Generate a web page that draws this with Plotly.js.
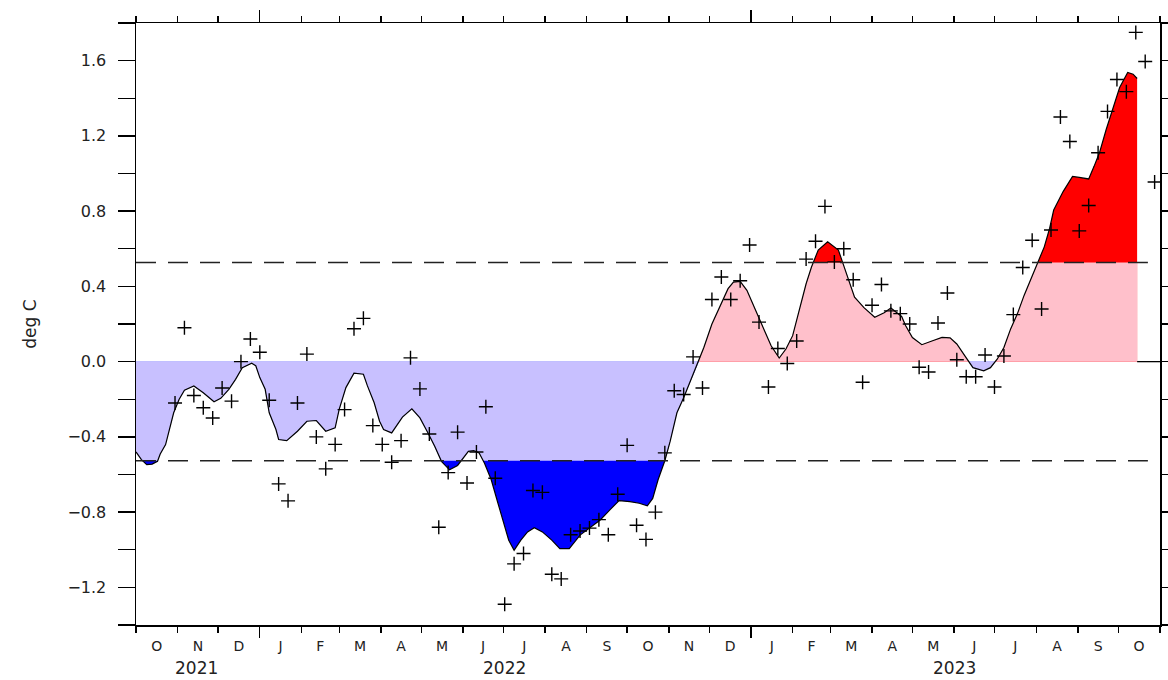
<!DOCTYPE html>
<html><head><meta charset="utf-8">
<script src="https://cdn.plot.ly/plotly-3.0.1.min.js"></script>
<style>html,body{margin:0;padding:0;background:#fff}#chart{width:1168px;height:680px}</style>
</head><body><div id="chart"></div>
<script>
// Weekly anomalies (crosses)
const weekDates = [
'2021-10-30','2021-11-06','2021-11-13','2021-11-20','2021-11-27','2021-12-04','2021-12-11','2021-12-18','2021-12-25',
'2022-01-01','2022-01-08','2022-01-15','2022-01-22','2022-01-29','2022-02-05','2022-02-12','2022-02-19','2022-02-26',
'2022-03-05','2022-03-12','2022-03-19','2022-03-26','2022-04-02','2022-04-09','2022-04-16','2022-04-23','2022-04-30',
'2022-05-07','2022-05-14','2022-05-21','2022-05-28','2022-06-04','2022-06-11','2022-06-18','2022-06-25','2022-07-02',
'2022-07-09','2022-07-16','2022-07-23','2022-07-30','2022-08-06','2022-08-13','2022-08-20','2022-08-27','2022-09-03',
'2022-09-10','2022-09-17','2022-09-24','2022-10-01','2022-10-08','2022-10-15','2022-10-22','2022-10-29','2022-11-05',
'2022-11-12','2022-11-19','2022-11-26','2022-12-03','2022-12-10','2022-12-17','2022-12-24','2022-12-31','2023-01-07',
'2023-01-14','2023-01-21','2023-01-28','2023-02-04','2023-02-11','2023-02-18','2023-02-25','2023-03-04','2023-03-11',
'2023-03-18','2023-03-25','2023-04-01','2023-04-08','2023-04-15','2023-04-22','2023-04-29','2023-05-06','2023-05-13',
'2023-05-20','2023-05-27','2023-06-03','2023-06-10','2023-06-17','2023-06-24','2023-07-01','2023-07-08','2023-07-15',
'2023-07-22','2023-07-29','2023-08-05','2023-08-12','2023-08-19','2023-08-26','2023-09-02','2023-09-09','2023-09-16',
'2023-09-23','2023-09-30','2023-10-07','2023-10-14','2023-10-21','2023-10-28'];
const weekValues = [
-0.22,0.18,-0.18,-0.245,-0.30,-0.14,-0.21,0.00,0.12,
0.05,-0.205,-0.65,-0.74,-0.22,0.04,-0.40,-0.57,-0.44,
-0.255,0.175,0.23,-0.34,-0.44,-0.535,-0.42,0.02,-0.145,
-0.385,-0.88,-0.59,-0.375,-0.645,-0.48,-0.24,-0.62,-1.29,
-1.075,-1.02,-0.685,-0.695,-1.13,-1.155,-0.92,-0.90,-0.885,
-0.84,-0.92,-0.705,-0.445,-0.87,-0.945,-0.80,-0.485,-0.155,
-0.175,0.025,-0.14,0.33,0.45,0.33,0.43,0.62,0.21,
-0.135,0.07,-0.01,0.11,0.545,0.64,0.825,0.53,0.60,
0.435,-0.11,0.30,0.41,0.27,0.255,0.20,-0.03,-0.055,
0.205,0.365,0.01,-0.08,-0.08,0.035,-0.135,0.03,0.25,
0.50,0.645,0.28,0.70,1.30,1.17,0.695,0.83,1.11,
1.33,1.50,1.435,1.75,1.595,0.955];

// Smoothed curve
const curveDates = [
'2021-10-01','2021-10-05','2021-10-09','2021-10-13','2021-10-17','2021-10-19','2021-10-23','2021-10-26','2021-10-29',
'2021-11-02','2021-11-06','2021-11-13','2021-11-20','2021-11-28','2021-12-03','2021-12-09','2021-12-14','2021-12-19',
'2021-12-26','2021-12-29','2022-01-01','2022-01-05','2022-01-08','2022-01-13','2022-01-15','2022-01-21','2022-01-29',
'2022-02-05','2022-02-12','2022-02-19','2022-02-26','2022-03-01','2022-03-06','2022-03-12','2022-03-19','2022-03-22',
'2022-03-27','2022-03-31','2022-04-03','2022-04-09','2022-04-17','2022-04-24','2022-04-30','2022-05-06','2022-05-11',
'2022-05-16','2022-05-22','2022-05-28','2022-06-01','2022-06-05','2022-06-09','2022-06-13','2022-06-17','2022-06-22',
'2022-06-27','2022-07-02','2022-07-05','2022-07-09','2022-07-14','2022-07-19','2022-07-24','2022-07-30','2022-08-06',
'2022-08-12','2022-08-19','2022-08-27','2022-09-03','2022-09-11','2022-09-18','2022-09-25','2022-10-03','2022-10-10',
'2022-10-16','2022-10-20','2022-10-24','2022-10-29','2022-11-02','2022-11-07','2022-11-12','2022-11-18','2022-11-23',
'2022-11-27','2022-12-03','2022-12-10','2022-12-15','2022-12-19','2022-12-24','2022-12-29','2023-01-04','2023-01-10',
'2023-01-16','2023-01-22','2023-01-27','2023-02-01','2023-02-06','2023-02-11','2023-02-15','2023-02-20','2023-02-27',
'2023-03-07','2023-03-10','2023-03-14','2023-03-19','2023-03-26','2023-04-03','2023-04-10','2023-04-15','2023-04-23',
'2023-04-26','2023-05-01','2023-05-08','2023-05-16','2023-05-23','2023-05-29','2023-06-03','2023-06-09','2023-06-15',
'2023-06-23','2023-06-28','2023-07-03','2023-07-08','2023-07-13','2023-07-18','2023-07-23','2023-07-28','2023-08-02',
'2023-08-07','2023-08-11','2023-08-14','2023-08-21','2023-08-28','2023-09-02','2023-09-09','2023-09-13','2023-09-17',
'2023-09-22','2023-09-27','2023-10-02','2023-10-08','2023-10-12','2023-10-15'];
const curveValues = [
-0.48,-0.521,-0.548,-0.545,-0.530,-0.491,-0.441,-0.361,-0.272,
-0.201,-0.152,-0.129,-0.165,-0.213,-0.195,-0.147,-0.094,-0.032,
-0.008,-0.022,-0.085,-0.147,-0.272,-0.361,-0.414,-0.420,-0.370,
-0.317,-0.313,-0.370,-0.352,-0.254,-0.138,-0.061,-0.067,-0.129,
-0.219,-0.317,-0.361,-0.379,-0.295,-0.251,-0.299,-0.379,-0.450,
-0.530,-0.575,-0.552,-0.513,-0.477,-0.473,-0.486,-0.540,-0.628,
-0.753,-0.878,-0.949,-1.003,-0.949,-0.905,-0.883,-0.905,-0.949,
-0.994,-0.994,-0.922,-0.883,-0.842,-0.789,-0.739,-0.744,-0.753,
-0.766,-0.727,-0.628,-0.527,-0.423,-0.272,-0.192,-0.085,-0.005,
0.075,0.200,0.307,0.388,0.423,0.427,0.379,0.281,0.182,
0.084,0.019,0.067,0.138,0.272,0.414,0.503,0.593,0.637,
0.593,0.530,0.450,0.343,0.287,0.236,0.260,0.285,0.240,
0.191,0.128,0.090,0.111,0.129,0.126,0.094,0.031,-0.032,
-0.049,-0.032,0.013,0.075,0.174,0.254,0.352,0.441,0.521,
0.610,0.709,0.806,0.904,0.985,0.979,0.971,1.038,1.110,
1.234,1.350,1.457,1.537,1.528,1.505];

const anomalyThresholds = [-0.527, 0.527];
const monthAlias = {Jan:'J',Feb:'F',Mar:'M',Apr:'A',May:'M',Jun:'J',Jul:'J',Aug:'A',Sep:'S',Oct:'O',Nov:'N',Dec:'D'};
const yearLabels = ['2021','2022','2023'];
const yearLabelDates = ['2021-11-15','2022-07-02','2023-06-01'];
const yearTickDates = ['2022-01-01','2023-01-01'];
const axisStart = '2021-10-01', axisEnd = '2023-11-01';
const dashEnd = '2023-10-23';

// insert level-crossing points so fills split exactly at 0 and thresholds
function densify(dates, vals, levels){
  const t = dates.map(d => Date.parse(d));
  const ox=[t[0]], oy=[vals[0]];
  for(let i=1;i<t.length;i++){
    const y0=vals[i-1], y1=vals[i];
    const cr = levels.filter(l => (y0-l)*(y1-l) < 0).map(l => ({f:(l-y0)/(y1-y0), l:l}));
    cr.sort((a,b)=>a.f-b.f);
    cr.forEach(c => { ox.push(t[i-1]+c.f*(t[i]-t[i-1])); oy.push(c.l); });
    ox.push(t[i]); oy.push(y1);
  }
  return {x:ox, y:oy};
}
const lo = anomalyThresholds[0], hi = anomalyThresholds[1];
const dens = densify(curveDates, curveValues, [lo, 0, hi]);
const clampY = (a, b) => dens.y.map(v => Math.min(b, Math.max(a, v)));

function fillTrace(y, color){
  return {x: dens.x, y: y, type:'scatter', mode:'lines', fill:'tozeroy', fillcolor: color,
          line:{width:0, color:color}, hoverinfo:'skip', showlegend:false, xaxis:'x', yaxis:'y'};
}

const traces = [
  fillTrace(clampY(-Infinity, 0), '#0000ff'),
  fillTrace(clampY(lo, 0), '#c8c0ff'),
  fillTrace(clampY(0, Infinity), '#ff0000'),
  fillTrace(clampY(0, hi), '#ffc0cb'),
  {x: curveDates, y: curveValues, type:'scatter', mode:'lines', line:{color:'#000', width:1.2}, showlegend:false, xaxis:'x', yaxis:'y'},
  {x: weekDates, y: weekValues, type:'scatter', mode:'markers',
   marker:{symbol:'cross-thin-open', size:10, color:'#000', line:{color:'#000', width:1.4}},
   showlegend:false, xaxis:'x2', yaxis:'y'}
];

const fam = 'DejaVu Sans, sans-serif';

const layout = {
  width:1168, height:680,
  margin:{l:136, r:8, t:23, b:55},
  paper_bgcolor:'#fff', plot_bgcolor:'#fff',
  font: {family:fam, size:15, color:'#111'},
  showlegend:false,
  xaxis:{
    type:'date', range:[axisStart, axisEnd],
    tick0: axisStart, dtick:'M1', tickformat:'%b', ticklabelmode:'period', labelalias: monthAlias,
    ticks:'outside', ticklen:6, tickwidth:1.3, tickcolor:'#000',
    showline:true, linecolor:'#000', linewidth:1.5, mirror:'ticks',
    showgrid:false, zeroline:false, tickfont:{family:fam, size:14, color:'#222'},
    ticklabelstandoff:2
  },
  xaxis2:{
    type:'date', overlaying:'x', matches:'x', anchor:'y', side:'bottom',
    tickmode:'array', tickvals: yearTickDates, showticklabels:false,
    ticks:'outside', ticklen:12, tickwidth:1.3, tickcolor:'#000',
    showline:false, mirror:'ticks', showgrid:false, zeroline:false
  },
  yaxis:{
    range:[-1.4, 1.8], tick0:0, dtick:0.4, tickformat:'.1f',
    ticks:'outside', ticklen:17, tickwidth:1.3, tickcolor:'#000',
    minor:{dtick:0.2, ticks:'outside', ticklen:17, tickwidth:1.3, tickcolor:'#000'},
    showline:true, linecolor:'#000', linewidth:1.5, mirror:'ticks',
    showgrid:false, zeroline:false, ticklabelstandoff:8,
    tickfont:{family:fam, size:16, color:'#222'},
    title:{text:'deg C', standoff:26, font:{family:fam, size:17, color:'#222'}}
  },
  shapes:[
    {type:'line', xref:'x', yref:'y', x0:axisStart, x1:dashEnd, y0:lo, y1:lo, layer:'above',
     line:{color:'#222', width:1.5, dash:'20px,12px'}},
    {type:'line', xref:'x', yref:'y', x0:axisStart, x1:dashEnd, y0:hi, y1:hi, layer:'above',
     line:{color:'#222', width:1.5, dash:'20px,12px'}},
    {type:'line', xref:'x', yref:'y', x0:curveDates[curveDates.length-1], x1:axisEnd, y0:0, y1:0, layer:'above',
     line:{color:'#000', width:1.3}}
  ],
  annotations: yearLabels.map((t,i) => ({
    text:t, x:yearLabelDates[i], xref:'x', yref:'paper', y:-0.071, yanchor:'middle', xanchor:'center',
    showarrow:false, font:{family:fam, size:17, color:'#222'}
  }))
};

Plotly.newPlot('chart', traces, layout, {displayModeBar:false, staticPlot:true});
</script>
</body></html>
